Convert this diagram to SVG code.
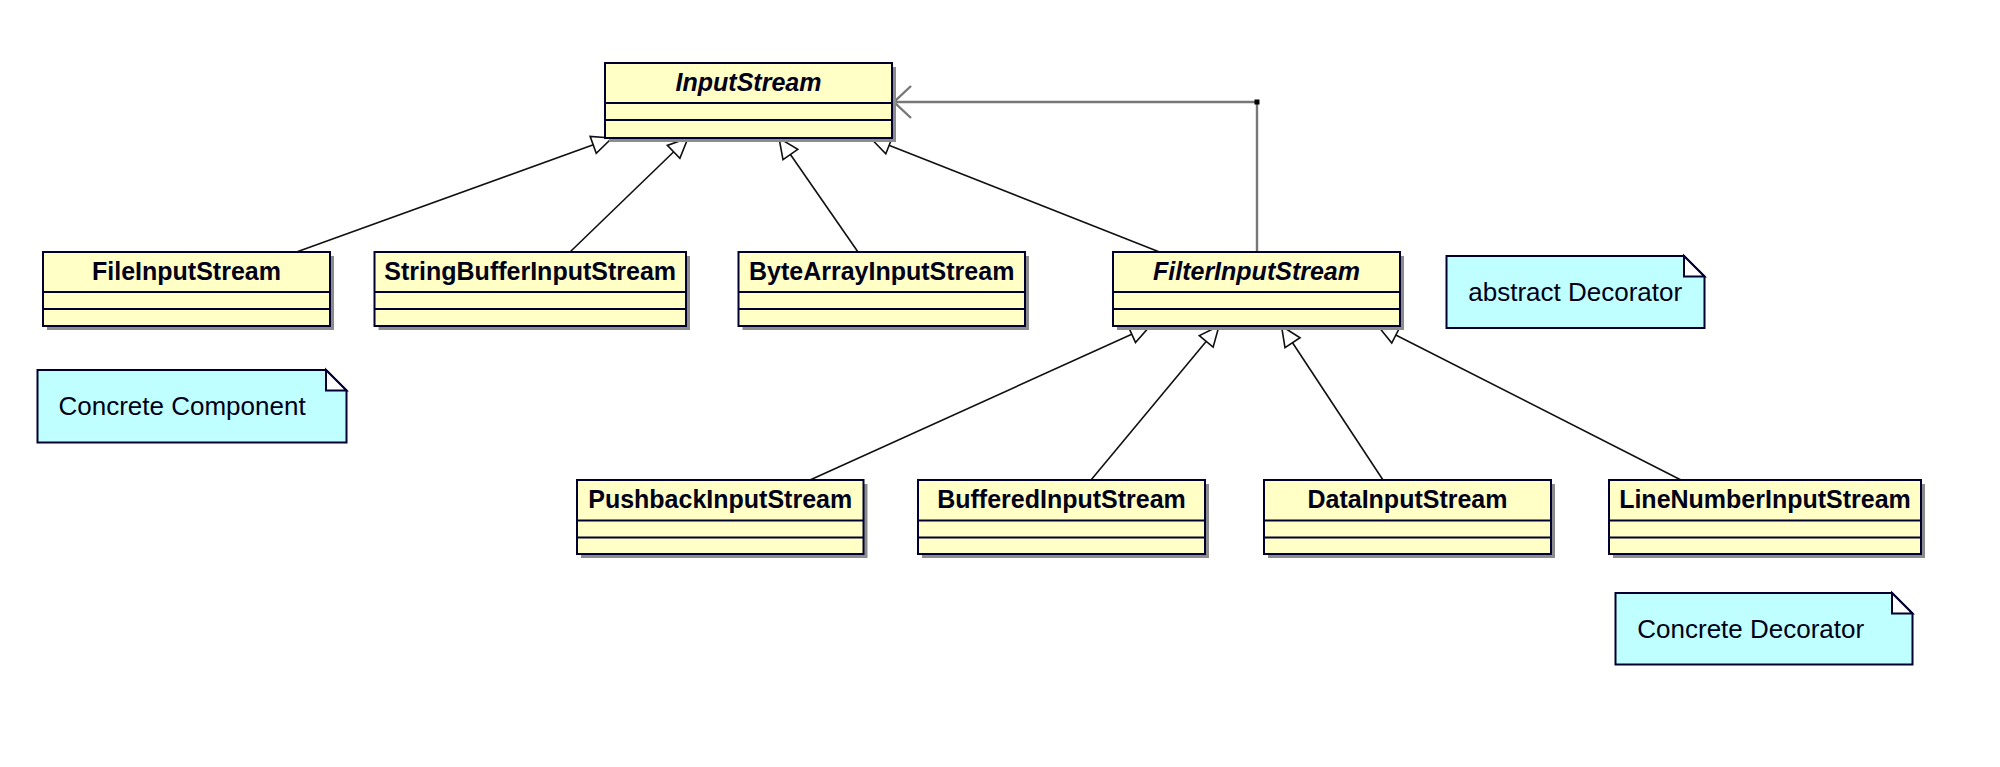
<svg xmlns="http://www.w3.org/2000/svg" width="2000" height="767" viewBox="0 0 2000 767">
<style>
.sh{fill:#8c8c8c;}
.box{fill:#ffffc6;stroke:#000030;stroke-width:2;}
.div{stroke:#000030;stroke-width:2;}
.name{font-family:"Liberation Sans",Arial,sans-serif;font-size:25px;font-weight:bold;fill:#000018;text-anchor:middle;}
.abs{font-style:italic;}
.nb{fill:#c0ffff;stroke:#000030;stroke-width:2;}
.nf{fill:#ffffff;stroke:#000030;stroke-width:2;stroke-linejoin:miter;}
.nt{font-family:"Liberation Sans",Arial,sans-serif;font-size:26px;fill:#000018;}
.gen{stroke:#101010;stroke-width:1.6;fill:none;}
.assoc{stroke:#777777;stroke-width:2.4;fill:none;}
</style>
<defs>
<marker id="genHead" markerUnits="userSpaceOnUse" viewBox="-23 -12 25 24" markerWidth="25" markerHeight="24" refX="0" refY="0" orient="auto" overflow="visible">
<path d="M0,0 L-20,-9 L-20,9 Z" fill="#ffffff" stroke="#101010" stroke-width="1.6" stroke-linejoin="miter"/>
</marker>
<marker id="openHead" markerUnits="userSpaceOnUse" viewBox="-20 -18 22 36" markerWidth="22" markerHeight="36" refX="0" refY="0" orient="auto" overflow="visible">
<path d="M-17,-16 L0,0 L-17,16" fill="none" stroke="#777777" stroke-width="2.4"/>
</marker>
</defs>
<rect x="0" y="0" width="2000" height="767" fill="#ffffff"/>

<g id="connectors">
<line class="gen" x1="296.5" y1="252" x2="612" y2="138" marker-end="url(#genHead)"/>
<line class="gen" x1="570" y1="252" x2="688" y2="138" marker-end="url(#genHead)"/>
<line class="gen" x1="858" y1="252" x2="779" y2="138" marker-end="url(#genHead)"/>
<line class="gen" x1="1159.5" y1="252" x2="870.5" y2="138" marker-end="url(#genHead)"/>
<line class="gen" x1="810" y1="480" x2="1150" y2="326" marker-end="url(#genHead)"/>
<line class="gen" x1="1091" y1="480" x2="1219" y2="326" marker-end="url(#genHead)"/>
<line class="gen" x1="1383" y1="480" x2="1281.5" y2="326" marker-end="url(#genHead)"/>
<line class="gen" x1="1681" y1="480" x2="1378" y2="326" marker-end="url(#genHead)"/>
<polyline class="assoc" points="1257,252 1257,102 894,102" marker-end="url(#openHead)"/>
<rect x="1254.5" y="99.5" width="5" height="5" fill="#000000"/>
</g>

<g id="InputStream">
<rect class="sh" x="609" y="67" width="287" height="75"/>
<rect class="box" x="605" y="63" width="287" height="75"/>
<line class="div" x1="605" y1="103" x2="892" y2="103"/>
<line class="div" x1="605" y1="120" x2="892" y2="120"/>
<text class="name abs" x="748.5" y="91">InputStream</text>
</g>

<g id="FileInputStream">
<rect class="sh" x="47" y="256" width="287" height="74"/>
<rect class="box" x="43" y="252" width="287" height="74"/>
<line class="div" x1="43" y1="292" x2="330" y2="292"/>
<line class="div" x1="43" y1="309" x2="330" y2="309"/>
<text class="name" x="186.5" y="280">FileInputStream</text>
</g>

<g id="StringBufferInputStream">
<rect class="sh" x="378.5" y="256" width="311.5" height="74"/>
<rect class="box" x="374.5" y="252" width="311.5" height="74"/>
<line class="div" x1="374.5" y1="292" x2="686" y2="292"/>
<line class="div" x1="374.5" y1="309" x2="686" y2="309"/>
<text class="name" x="530.2" y="280">StringBufferInputStream</text>
</g>

<g id="ByteArrayInputStream">
<rect class="sh" x="742.5" y="256" width="286.5" height="74"/>
<rect class="box" x="738.5" y="252" width="286.5" height="74"/>
<line class="div" x1="738.5" y1="292" x2="1025" y2="292"/>
<line class="div" x1="738.5" y1="309" x2="1025" y2="309"/>
<text class="name" x="881.7" y="280">ByteArrayInputStream</text>
</g>

<g id="FilterInputStream">
<rect class="sh" x="1117" y="256" width="287" height="74"/>
<rect class="box" x="1113" y="252" width="287" height="74"/>
<line class="div" x1="1113" y1="292" x2="1400" y2="292"/>
<line class="div" x1="1113" y1="309" x2="1400" y2="309"/>
<text class="name abs" x="1256.5" y="280">FilterInputStream</text>
</g>

<g id="PushbackInputStream">
<rect class="sh" x="581" y="484" width="286.5" height="74"/>
<rect class="box" x="577" y="480" width="286.5" height="74"/>
<line class="div" x1="577" y1="520.5" x2="863.5" y2="520.5"/>
<line class="div" x1="577" y1="537.5" x2="863.5" y2="537.5"/>
<text class="name" x="720.2" y="508">PushbackInputStream</text>
</g>

<g id="BufferedInputStream">
<rect class="sh" x="922" y="484" width="287" height="74"/>
<rect class="box" x="918" y="480" width="287" height="74"/>
<line class="div" x1="918" y1="520.5" x2="1205" y2="520.5"/>
<line class="div" x1="918" y1="537.5" x2="1205" y2="537.5"/>
<text class="name" x="1061.5" y="508">BufferedInputStream</text>
</g>

<g id="DataInputStream">
<rect class="sh" x="1268" y="484" width="287" height="74"/>
<rect class="box" x="1264" y="480" width="287" height="74"/>
<line class="div" x1="1264" y1="520.5" x2="1551" y2="520.5"/>
<line class="div" x1="1264" y1="537.5" x2="1551" y2="537.5"/>
<text class="name" x="1407.5" y="508">DataInputStream</text>
</g>

<g id="LineNumberInputStream">
<rect class="sh" x="1613" y="484" width="312" height="74"/>
<rect class="box" x="1609" y="480" width="312" height="74"/>
<line class="div" x1="1609" y1="520.5" x2="1921" y2="520.5"/>
<line class="div" x1="1609" y1="537.5" x2="1921" y2="537.5"/>
<text class="name" x="1765" y="508">LineNumberInputStream</text>
</g>

<g id="note-concrete-component">
<path class="nb" d="M37.5,370 H326 L346.5,390.5 V442.5 H37.5 Z"/>
<path class="nf" d="M326,370 V390.5 H346.5 Z"/>
<text class="nt" x="58.5" y="415">Concrete Component</text>
</g>

<g id="note-abstract-decorator">
<path class="nb" d="M1446.5,256 H1684 L1704.5,276.5 V328 H1446.5 Z"/>
<path class="nf" d="M1684,256 V276.5 H1704.5 Z"/>
<text class="nt" x="1468.3" y="301">abstract Decorator</text>
</g>

<g id="note-concrete-decorator">
<path class="nb" d="M1615.5,593 H1892 L1912.5,613.5 V664.5 H1615.5 Z"/>
<path class="nf" d="M1892,593 V613.5 H1912.5 Z"/>
<text class="nt" x="1637.3" y="637.5">Concrete Decorator</text>
</g>
</svg>
